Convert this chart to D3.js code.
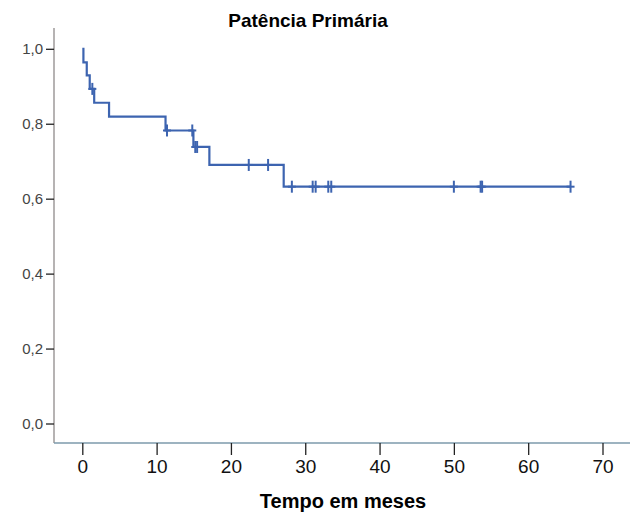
<!DOCTYPE html>
<html>
<head>
<meta charset="utf-8">
<script src="https://cdn.jsdelivr.net/npm/d3@7"></script>
<style>
	body { margin: 0; background: #fff; }
	svg { display: block; }
	.title { font-family: 'Liberation Sans', Arial, sans-serif; font-weight: bold; fill: #000; }
	.y.axis text { font-family: 'Liberation Sans', Arial, sans-serif; font-size: 15px; fill: #444; }
	.x.axis text { font-family: 'Liberation Sans', Arial, sans-serif; font-size: 19px; fill: #111; }
</style>
</head>
<body>
<div id="graphic"></div>
<script>
// Kaplan-Meier steps: event times and survival after each event
const eventTimes = [0, 0.15, 0.6, 1.0, 1.6, 3.6, 11.2, 14.95, 17.1, 27.1];
const survival = [1.0, 0.964, 0.929, 0.893, 0.856, 0.819, 0.782, 0.738, 0.690, 0.632];
const endTime = 65.7;

// censored observations (time, survival level)
const censorTimes = [1.35, 11.4, 14.8, 15.2, 15.45, 22.4, 25.0, 28.2, 31.0, 31.4, 33.1, 33.5, 50.0, 53.6, 53.8, 65.7];
const censorSurv = [0.893, 0.782, 0.782, 0.738, 0.738, 0.690, 0.690, 0.632, 0.632, 0.632, 0.632, 0.632, 0.632, 0.632, 0.632, 0.632];

const xTicks = [0, 10, 20, 30, 40, 50, 60, 70];
const yTicks = [0, 0.2, 0.4, 0.6, 0.8, 1.0];

const chartTitle = 'Patência Primária';
const xLabel = 'Tempo em meses';

const width = 635, height = 515;
const box = { left: 54, right: 630, top: 28, bottom: 443 };

const svg = d3.select('#graphic').append('svg')
	.attr('width', width)
	.attr('height', height);

// scales calibrated so 0 and 1 land where the reference draws them
const x = d3.scaleLinear().domain([0, 70]).range([82.3, 602.5]);
const y = d3.scaleLinear().domain([0, 1]).range([423.5, 48.8]);

// axis lines
svg.append('line')
	.attr('x1', box.left).attr('x2', box.left)
	.attr('y1', box.top).attr('y2', box.bottom)
	.attr('stroke', '#8f8a8a').attr('stroke-width', 1.3);
svg.append('line')
	.attr('x1', box.left).attr('x2', box.right)
	.attr('y1', box.bottom).attr('y2', box.bottom)
	.attr('stroke', '#7d9aab').attr('stroke-width', 1.3);

// y axis
const yAxis = d3.axisLeft(y)
	.tickValues(yTicks)
	.tickSize(8)
	.tickPadding(3)
	.tickFormat(d => d3.format('.1f')(d).replace('.', ','));
const gy = svg.append('g')
	.attr('class', 'y axis')
	.attr('transform', `translate(${box.left},0)`)
	.call(yAxis);
gy.select('.domain').remove();
gy.selectAll('line').attr('stroke', '#222').attr('stroke-width', 1.3);

// x axis
const xAxis = d3.axisBottom(x)
	.tickValues(xTicks)
	.tickSize(12)
	.tickPadding(5)
	.tickFormat(d3.format('d'));
const gx = svg.append('g')
	.attr('class', 'x axis')
	.attr('transform', `translate(0,${box.bottom})`)
	.call(xAxis);
gx.select('.domain').remove();
gx.selectAll('line').attr('stroke', '#222').attr('stroke-width', 1.3);

// step curve
const pts = eventTimes.map((t, i) => [t, survival[i]]);
pts.push([endTime, survival[survival.length - 1]]);
const line = d3.line()
	.x(d => x(d[0]))
	.y(d => y(d[1]))
	.curve(d3.curveStepAfter);

svg.append('path')
	.datum(pts)
	.attr('fill', 'none')
	.attr('stroke', '#3d64b0')
	.attr('stroke-width', 2.2)
	.attr('d', line);

// censor marks
const marks = svg.append('g')
	.attr('stroke', '#3d64b0')
	.attr('stroke-width', 2);
censorTimes.forEach((t, i) => {
	const cx = x(t), cy = y(censorSurv[i]);
	marks.append('line')
		.attr('x1', cx).attr('x2', cx)
		.attr('y1', cy - 6).attr('y2', cy + 6);
	marks.append('line')
		.attr('x1', cx - 4).attr('x2', cx + 4)
		.attr('y1', cy).attr('y2', cy);
});

// titles
svg.append('text')
	.attr('class', 'title')
	.attr('x', 308).attr('y', 27)
	.attr('text-anchor', 'middle')
	.style('font-size', '19px')
	.text(chartTitle);

svg.append('text')
	.attr('class', 'title')
	.attr('x', 343).attr('y', 508)
	.attr('text-anchor', 'middle')
	.style('font-size', '20px')
	.text(xLabel);
</script>
</body>
</html>
